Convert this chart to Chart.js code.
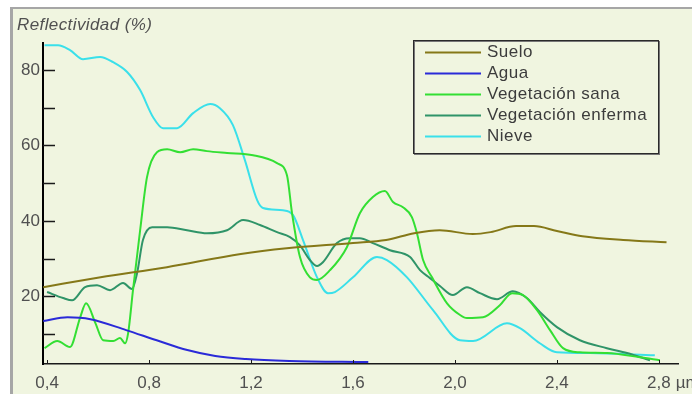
<!DOCTYPE html>
<html>
<head>
<meta charset="utf-8">
<script src="https://cdn.jsdelivr.net/npm/chart.js@4.4.1/dist/chart.umd.min.js"></script>
<style>
  html, body { margin: 0; padding: 0; background: #fff; overflow: hidden; }
  #wrap { position: relative; width: 692px; height: 394px; }
</style>
</head>
<body>
<div id="wrap"><canvas id="grafico" width="692" height="394"></canvas></div>
<script>
// textos y ticks
const tituloY = 'Reflectividad (%)';
const unidadX = 'µm';
const ticksX = [0.4, 0.8, 1.2, 1.6, 2.0, 2.4, 2.8];
const ticksY = [10, 20, 30, 40, 50, 60, 70, 80];
const etiquetasY = [20, 40, 60, 80];

const series = ['Suelo', 'Agua', 'Vegetación sana', 'Vegetación enferma', 'Nieve'];
const colores = ['#857818', '#2a2ad8', '#33df33', '#2f9468', '#3ae0ea'];

// longitud de onda (µm) / reflectividad (%)
const sueloX = [0.385, 0.61, 0.87, 1.16, 1.34, 1.60, 1.73, 1.84, 1.94, 2.07, 2.14, 2.24, 2.31, 2.40, 2.50, 2.66, 2.83];
const sueloY = [22.4, 25.0, 27.7, 31.2, 32.7, 34.1, 34.9, 36.7, 37.5, 36.5, 37.0, 38.6, 38.6, 37.3, 35.9, 34.9, 34.3];

const aguaX = [0.385, 0.48, 0.57, 0.71, 0.83, 0.95, 1.06, 1.18, 1.35, 1.66];
const aguaY = [13.4, 14.4, 13.9, 11.0, 8.3, 5.7, 4.1, 3.3, 2.8, 2.5];

const sanaX = [0.39, 0.44, 0.49, 0.53, 0.553, 0.59, 0.62, 0.66, 0.686, 0.706, 0.718, 0.737, 0.765, 0.792, 0.831, 0.871, 0.922, 0.973, 1.027, 1.106, 1.208, 1.302, 1.341, 1.361, 1.392, 1.431, 1.459, 1.510, 1.576, 1.627, 1.678, 1.725, 1.757, 1.796, 1.831, 1.851, 1.875, 1.910, 1.969, 2.020, 2.047, 2.110, 2.176, 2.224, 2.267, 2.322, 2.373, 2.424, 2.490, 2.596, 2.725, 2.804];
const sanaY = [6.2, 8.1, 6.5, 14.4, 18.1, 12.8, 8.3, 8.1, 8.9, 7.5, 10.2, 21.6, 37.5, 51.6, 58.2, 59.0, 58.2, 59.0, 58.5, 58.0, 57.4, 55.3, 52.1, 42.0, 30.4, 25.0, 24.3, 26.9, 33.0, 42.0, 46.3, 47.9, 45.0, 43.6, 41.0, 36.7, 29.6, 25.0, 18.1, 15.0, 14.2, 14.4, 17.6, 20.8, 20.3, 16.3, 11.0, 6.2, 5.1, 4.9, 3.8, 3.0];

const enfermaX = [0.40, 0.463, 0.498, 0.549, 0.596, 0.647, 0.698, 0.733, 0.753, 0.776, 0.812, 0.871, 0.949, 1.027, 1.106, 1.169, 1.235, 1.302, 1.353, 1.392, 1.431, 1.459, 1.482, 1.537, 1.588, 1.627, 1.678, 1.745, 1.824, 1.863, 1.902, 1.941, 1.992, 2.047, 2.098, 2.165, 2.227, 2.282, 2.333, 2.400, 2.490, 2.596, 2.675, 2.765];
const enfermaY = [21.1, 19.5, 18.9, 22.4, 22.9, 21.6, 23.5, 21.9, 26.1, 34.9, 38.3, 38.3, 37.5, 36.7, 37.5, 40.2, 38.9, 37.0, 35.7, 33.5, 29.6, 28.0, 29.0, 34.1, 35.4, 35.4, 34.1, 32.2, 30.4, 26.9, 24.8, 22.7, 20.3, 22.4, 20.8, 19.2, 21.3, 19.5, 15.8, 11.8, 8.3, 6.2, 4.9, 3.0];

const nieveX = [0.39, 0.443, 0.49, 0.541, 0.608, 0.659, 0.714, 0.765, 0.816, 0.855, 0.910, 0.973, 1.040, 1.078, 1.129, 1.176, 1.224, 1.247, 1.325, 1.365, 1.404, 1.459, 1.502, 1.529, 1.600, 1.694, 1.733, 1.812, 1.914, 2.020, 2.071, 2.204, 2.255, 2.333, 2.400, 2.529, 2.784];
const nieveY = [86.6, 86.6, 85.3, 82.9, 83.5, 82.1, 79.5, 74.7, 67.5, 64.6, 64.6, 68.6, 71.0, 69.9, 65.4, 56.1, 45.5, 43.4, 42.8, 41.5, 34.9, 25.0, 20.8, 21.1, 25.0, 30.4, 29.6, 25.0, 16.3, 8.3, 8.1, 12.8, 11.5, 7.5, 5.1, 4.9, 4.3];

const valoresX = [sueloX, aguaX, sanaX, enfermaX, nieveX];
const valoresY = [sueloY, aguaY, sanaY, enfermaY, nieveY];

const fuente = '"Liberation Sans", Arial, sans-serif';
const colorTexto = '#505050';
const fondo = '#f0f5e0';

const puntos = (xs, ys) => xs.map((x, i) => ({ x: x, y: ys[i] }));

// fondo del panel, titulo, marcas de los ejes y leyenda
const decoracion = {
  id: 'decoracion',
  beforeDraw(chart) {
    const ctx = chart.ctx;
    ctx.save();
    ctx.fillStyle = '#fff';
    ctx.fillRect(0, 0, chart.width, chart.height);
    ctx.fillStyle = fondo;
    ctx.fillRect(10, 7, chart.width - 10, chart.height - 7);
    ctx.fillStyle = '#a6a6a6';
    ctx.fillRect(10, 7, chart.width - 10, 2);
    ctx.fillRect(10, 7, 3, chart.height - 7);

    ctx.fillStyle = colorTexto;
    ctx.font = 'italic 17px ' + fuente;
    ctx.letterSpacing = '0.4px';
    ctx.textBaseline = 'middle';
    ctx.fillText(tituloY, 17, 25);
    ctx.restore();
  },
  afterDraw(chart) {
    const { ctx, chartArea, scales: { x, y } } = chart;
    ctx.save();
    ctx.strokeStyle = '#1a1a1a';
    ctx.lineWidth = 1.5;
    y.ticks.forEach(t => {
      const py = Math.round(y.getPixelForValue(t.value)) + 0.5;
      ctx.beginPath();
      ctx.moveTo(chartArea.left, py);
      ctx.lineTo(chartArea.left + 12, py);
      ctx.stroke();
    });
    ctx.lineWidth = 1;
    x.ticks.forEach(t => {
      const px = Math.round(x.getPixelForValue(t.value)) + 0.5;
      ctx.beginPath();
      ctx.moveTo(px, chartArea.bottom);
      ctx.lineTo(px, chartArea.bottom - 4);
      ctx.stroke();
    });

    // unidad junto al ultimo tick
    ctx.font = '17px ' + fuente;
    ctx.fillStyle = colorTexto;
    ctx.textBaseline = 'middle';
    const ult = ticksX[ticksX.length - 1];
    const lab = ult.toFixed(1).replace('.', ',');
    ctx.fillText(unidadX, x.getPixelForValue(ult) + ctx.measureText(lab).width / 2 + 5, x.top + 9 + 10);

    // leyenda
    const caja = { left: 413, top: 40, right: 658, bottom: 153 };
    ctx.fillStyle = fondo;
    ctx.fillRect(caja.left, caja.top, caja.right - caja.left, caja.bottom - caja.top);
    ctx.strokeStyle = '#777';
    ctx.lineWidth = 1;
    ctx.strokeRect(caja.left + 1.5, caja.top + 1.5, caja.right - caja.left, caja.bottom - caja.top);
    ctx.strokeStyle = '#2a2a2a';
    ctx.strokeRect(caja.left + 0.5, caja.top + 0.5, caja.right - caja.left, caja.bottom - caja.top);
    ctx.font = '17px ' + fuente;
    ctx.letterSpacing = '0.5px';
    chart.data.datasets.forEach((ds, i) => {
      const fy = 52 + i * 21;
      ctx.strokeStyle = ds.borderColor;
      ctx.lineWidth = 2;
      ctx.beginPath();
      ctx.moveTo(425, fy + 0.5);
      ctx.lineTo(481, fy + 0.5);
      ctx.stroke();
      ctx.fillStyle = '#3c3c3c';
      ctx.fillText(ds.label, 487, fy);
    });
    ctx.restore();
  }
};

Chart.defaults.font.family = fuente;
Chart.defaults.font.size = 17;
Chart.defaults.color = colorTexto;

new Chart(document.getElementById('grafico'), {
  type: 'line',
  data: {
    datasets: series.map((nombre, i) => ({
      label: nombre,
      data: puntos(valoresX[i], valoresY[i]),
      borderColor: colores[i],
      backgroundColor: colores[i],
      borderWidth: 2,
      pointRadius: 0,
      fill: false,
      cubicInterpolationMode: 'monotone'
    }))
  },
  options: {
    responsive: false,
    animation: false,
    events: [],
    layout: { padding: { left: 17, top: 43, right: 14, bottom: 0 } },
    plugins: {
      legend: { display: false },
      tooltip: { enabled: false },
      title: { display: false }
    },
    scales: {
      x: {
        type: 'linear',
        min: 0.384,
        max: 2.875,
        grid: { display: false, drawTicks: false },
        border: { display: true, color: '#1a1a1a', width: 1.5 },
        afterBuildTicks: scale => { scale.ticks = ticksX.map(v => ({ value: v })); },
        afterFit: scale => { scale.height = 30; },
        ticks: {
          padding: 9,
          maxRotation: 0,
          autoSkip: false,
          callback: v => Number(v).toFixed(1).replace('.', ',')
        }
      },
      y: {
        type: 'linear',
        min: 2,
        max: 87.2,
        grid: { display: false, drawTicks: false },
        border: { display: true, color: '#000', width: 2 },
        afterBuildTicks: scale => { scale.ticks = ticksY.map(v => ({ value: v })); },
        afterFit: scale => { scale.width = 26; },
        ticks: {
          padding: 3,
          autoSkip: false,
          callback: v => etiquetasY.includes(v) ? String(v) : ''
        }
      }
    }
  },
  plugins: [decoracion]
});
</script>
</body>
</html>
